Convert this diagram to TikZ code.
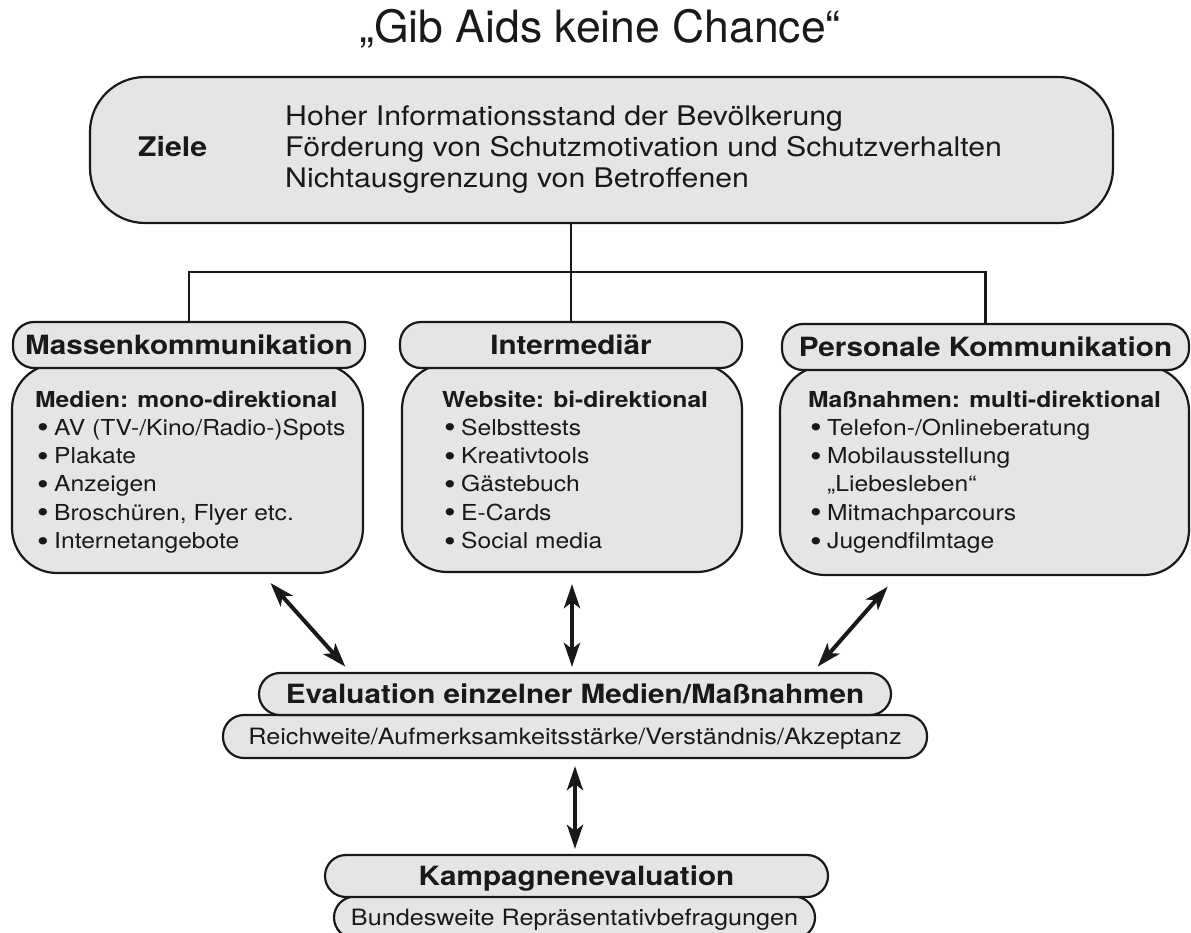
\documentclass[tikz,border=0pt]{standalone}
\usepackage{fontspec}
\setmainfont{TeX Gyre Heros}[FakeStretch=1.12]
\newfontfamily\titlefont{TeX Gyre Heros}
\usetikzlibrary{arrows.meta}
\definecolor{boxfill}{gray}{0.9}
\definecolor{ink}{gray}{0.1}
\newcommand{\bul}[1]{\hspace*{2pt}\makebox[17pt][l]{\raisebox{-2.5pt}{\scalebox{1.35}{•}}}#1}
\newcommand{\cont}[1]{\hspace*{19pt}#1}
\begin{document}
\begin{tikzpicture}[x=1pt,y=-1pt,
  box/.style={draw=ink, fill=boxfill, line width=2.2pt, inner sep=0pt, text=ink},
  hdr/.style={box, rounded corners=21pt, font=\fontsize{26.5}{30}\selectfont\bfseries, text height=19pt, text depth=0pt},
  sub/.style={box, rounded corners=21pt, font=\fontsize{22.5}{27}\selectfont, text height=16pt, text depth=0pt},
  panel/.style={box, rounded corners=45pt},
  txt/.style={anchor=base west, inner sep=0pt, text=ink},
  bodytxt/.style={txt, font=\fontsize{22}{28.3}\selectfont},
  link/.style={draw=ink, line width=2.2pt},
  dbl/.style={draw=ink, line width=4pt, {Stealth[length=24pt,width=16pt,inset=6pt]}-{Stealth[length=24pt,width=16pt,inset=6pt]}},
]
\useasboundingbox (0,0) rectangle (1191,933);
\clip (0,0) rectangle (1191,933);
\fill[white] (0,0) rectangle (1191,933);

% title
\node[anchor=base, inner sep=0pt, text=ink, font=\titlefont\fontsize{44.5}{50}\selectfont] (title) at (600,43) {„Gib Aids keine Chance“};

% goals box
\node[box, rounded corners=55pt, minimum width=1023pt, minimum height=146pt] (ziele) at (601.5,150) {};
\node[txt, font=\fontsize{27}{31}\selectfont\bfseries] (zlabel) at (138,157) {Ziele};
\node[txt, font=\fontsize{27}{31}\selectfont] (zlist) at (285,126) {\begin{tabular}[t]{@{}l@{}}Hoher Informationsstand der Bevölkerung\\Förderung von Schutzmotivation und Schutzverhalten\\Nichtausgrenzung von Betroffenen\end{tabular}};

% panels
\node[panel, minimum width=351pt, minimum height=209pt] (mkbody) at (187.5,468.5) {};
\node[panel, minimum width=340pt, minimum height=208pt] (imbody) at (572,468) {};
\node[panel, minimum width=409pt, minimum height=209pt] (pkbody) at (984.5,470.5) {};

\node[hdr, minimum width=352pt, minimum height=46pt] (mkhead) at (189,345) {Massenkommunikation};
\node[hdr, minimum width=342pt, minimum height=46pt] (imhead) at (571,345) {Intermediär};
\node[hdr, minimum width=407pt, minimum height=46pt] (pkhead) at (985.5,347) {Personale Kommunikation};

\node[bodytxt] (mktext) at (35,407) {\begin{tabular}[t]{@{}l@{}}\textbf{Medien: mono-direktional}\\
\bul{AV (TV-/Kino/Radio-)Spots}\\\bul{Plakate}\\\bul{Anzeigen}\\\bul{Broschüren, Flyer etc.}\\\bul{Internetangebote}\end{tabular}};
\node[bodytxt] (imtext) at (442,407) {\begin{tabular}[t]{@{}l@{}}\textbf{Website: bi-direktional}\\
\bul{Selbsttests}\\\bul{Kreativtools}\\\bul{Gästebuch}\\\bul{E-Cards}\\\bul{Social media}\end{tabular}};
\node[bodytxt] (pktext) at (808,407) {\begin{tabular}[t]{@{}l@{}}\textbf{Maßnahmen: multi-direktional}\\
\bul{Telefon-/Onlineberatung}\\\bul{Mobilausstellung}\\\cont{„Liebesleben“}\\\bul{Mitmachparcours}\\\bul{Jugendfilmtage}\end{tabular}};

% tree connectors
\coordinate (bus) at (571,272);
\draw[link] (imhead.north) -- (imhead.north |- ziele.south);
\draw[link] (mkhead.north) |- (bus) -| (pkhead.north);

% evaluation
\node[sub, minimum width=704pt, minimum height=43pt] (reich) at (575,736.5) {Reichweite/Aufmerksamkeitsstärke/Verständnis/Akzeptanz};
\node[hdr, minimum width=632pt, minimum height=42pt] (evalh) at (575,694) {Evaluation einzelner Medien/Maßnahmen};

\node[sub, minimum width=481pt, minimum height=42pt] (bund) at (574.5,917.5) {Bundesweite Repräsentativbefragungen};
\node[hdr, minimum width=503pt, minimum height=42pt] (kamp) at (576.5,876) {Kampagnenevaluation};

% arrows
\draw[dbl, shorten <=12pt, shorten >=7pt] ([xshift=75pt]mkbody.south) -- ([xshift=-225pt]evalh.north);
\draw[dbl, shorten <=11pt, shorten >=5pt] (imbody.south) -- (imbody.south |- evalh.north);
\draw[dbl, shorten <=14pt, shorten >=7pt] ([xshift=-87.5pt]pkbody.south) -- ([xshift=238pt]evalh.north);
\draw[dbl, shorten <=7pt, shorten >=5pt] (reich.south) -- (reich.south |- kamp.north);
\end{tikzpicture}
\end{document}
